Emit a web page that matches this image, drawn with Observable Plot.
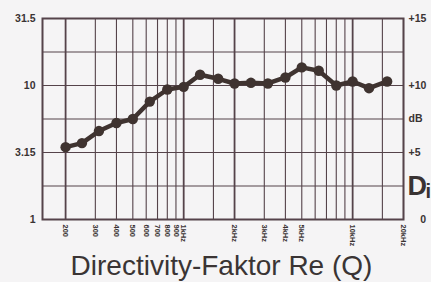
<!DOCTYPE html>
<html><head><meta charset="utf-8">
<script src="https://cdn.jsdelivr.net/npm/d3@7"></script>
<script src="https://cdn.jsdelivr.net/npm/@observablehq/plot@0.6"></script>
<style>
html,body{margin:0;padding:0;background:#f5f4f5;}
#wrap{position:relative;width:431px;height:282px;overflow:hidden;}
#chart svg{display:block;}
#title{position:absolute;left:6px;width:431px;top:252px;text-align:center;font-family:"Liberation Sans",Arial,sans-serif;font-size:28px;line-height:28px;color:#3a3434;white-space:nowrap;}
</style></head><body>
<div id="wrap"><div id="chart"></div><div id="title">Directivity-Faktor Re (Q)</div></div>
<script>
const freqs = [200,250,315,400,500,630,800,1000,1250,1600,2000,2500,3150,4000,5000,6300,8000,10000,12500,16000];
const dbValues = [5.4,5.7,6.6,7.2,7.5,8.8,9.7,9.9,10.8,10.5,10.15,10.2,10.15,10.6,11.35,11.1,10.0,10.3,9.8,10.3];
const xGrid = [200,300,400,500,600,700,800,900,1000,1500,2000,3000,4000,5000,6000,7000,8000,9000,10000,15000,20000];
const xGridBold = [200,1000,2000,10000];
const xTicks = [200,300,400,500,600,700,800,900,1000,2000,3000,4000,5000,10000,20000];
const xTickLabels = ["200","300","400","500","600","700","800","900","1kHz","2kHz","3kHz","4kHz","5kHz","10kHz","20kHz"];
const yGrid = [0,2.5,5,7.5,10,12.5,15];
const yTicks = [0,5,10,15];
const qLabels = ["1","3.15","10","31.5"];
const dbLabels = ["\u2007\u20070","+5","+10","+15"];

const data = freqs.map((f,i)=>({f, db: dbValues[i]}));
const xLabelData = xTicks.map((f,i)=>({f, label: xTickLabels[i]}));
const ink = "#3f3330";
const grid = "#55434a";
const txt = "#3a3333";

const chart = Plot.plot({
  width: 431, height: 250,
  marginTop: 18, marginBottom: 31, marginLeft: 42, marginRight: 28,
  style: {background: "transparent", fontFamily: "'Liberation Sans', Arial, sans-serif", color: txt},
  x: {type: "log", domain: [146, 20000], axis: null},
  y: {domain: [0, 15]},
  marks: [
    Plot.ruleY(yGrid, {stroke: grid, strokeWidth: 1.2}),
    Plot.ruleX(xGrid, {stroke: grid, strokeWidth: d => xGridBold.includes(d) ? 1.8 : 1.1}),
    Plot.frame({stroke: grid, strokeWidth: 2}),
    Plot.axisY({anchor: "left", ticks: yTicks, tickSize: 0, tickPadding: 7, tickFormat: d => qLabels[yTicks.indexOf(d)], fontSize: 10.5, fontWeight: "bold", label: null}),
    Plot.axisY({anchor: "right", ticks: yTicks, tickSize: 0, tickPadding: 5, tickFormat: d => dbLabels[yTicks.indexOf(d)], fontSize: 10.5, fontWeight: "bold", label: null}),
    Plot.text(xLabelData, {x: "f", text: "label", frameAnchor: "bottom", rotate: 90, dy: 5, textAnchor: "start", lineAnchor: "middle", fontSize: 7.5, fontWeight: "bold", fill: txt}),
    Plot.text(["dB"], {y: [7.5], frameAnchor: "right", dx: 5, textAnchor: "start", fontSize: 10.5, fontWeight: "bold", fill: txt}),
    Plot.text(["D"], {y: [2.5], frameAnchor: "right", dx: 4, textAnchor: "start", fontSize: 27, fontWeight: "bold", fill: txt}),
    Plot.text(["i"], {y: [2.5], frameAnchor: "right", dx: 22, dy: 6, textAnchor: "start", fontSize: 20, fontWeight: "bold", fill: txt}),
    Plot.line(data, {x: "f", y: "db", stroke: ink, strokeWidth: 4.5}),
    Plot.dot(data, {x: "f", y: "db", r: 5.2, fill: ink, stroke: "none"})
  ]
});
document.getElementById("chart").appendChild(chart);
</script>
</body></html>
